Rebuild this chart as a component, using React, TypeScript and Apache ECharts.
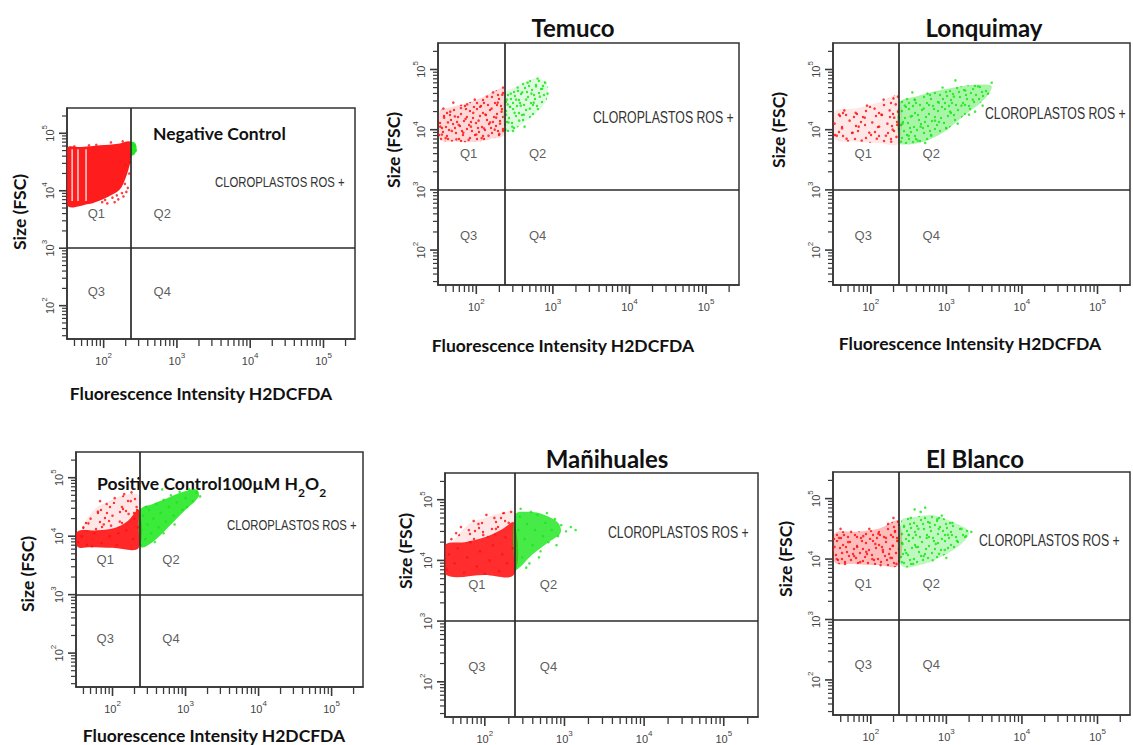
import React, { useEffect, useRef } from 'react';
import * as echarts from 'echarts';

type Pt = [number, number];

// Axes are in decades: x = log10(fluorescence H2DCFDA), y = log10(FSC size)
const X_MIN = 1.5;
const X_MAX = 5.43;
const Y_MIN = 1.42;
const Y_MAX = 5.44;
const X_GATE = 2.37;
const Y_GATE = 3;
const DECADE_STARTS = [1, 2, 3, 4, 5];
const MINOR_MULTIPLIERS = [2, 3, 4, 5, 6, 7, 8, 9];
const QUADRANT_LABELS = ['Q1', 'Q2', 'Q3', 'Q4'];
const QUADRANT_POS: Pt[] = [[1.9, 3.6], [2.8, 3.6], [1.9, 2.25], [2.8, 2.25]];
const ROS_LABEL = 'CLOROPLASTOS ROS +';

// ---------- Negative control ----------
const negRedCore: Pt[] = [[1.5, 3.75], [1.5, 4.74], [1.7, 4.76], [1.95, 4.79], [2.2, 4.82], [2.37, 4.85], [2.37, 4.55], [2.3, 4.22], [2.22, 4.02], [2.1, 3.92], [1.95, 3.83], [1.8, 3.77]];
const negRedPoints: Pt[] = [[2.2, 3.85], [2.27, 3.9], [2.15, 3.8], [2.33, 4.05], [2.05, 3.78], [2.25, 3.96], [1.9, 4.8], [2.1, 4.84], [1.6, 4.77], [2.3, 4.45], [2.18, 3.92], [2.35, 4.3], [2.29, 4.12], [2.12, 3.88], [1.98, 3.8], [2.36, 4.5], [2.26, 4.86], [1.8, 4.79], [2.31, 3.98], [2.02, 3.84]];
const negGreenCore: Pt[] = [[2.37, 4.62], [2.37, 4.85], [2.43, 4.83], [2.45, 4.72], [2.42, 4.63]];
const negGreenPoints: Pt[] = [[2.38, 4.72], [2.4, 4.66], [2.42, 4.78], [2.39, 4.8], [2.44, 4.7]];
const negEmptyBins = [1.57, 1.65, 1.76];

// ---------- Temuco ----------
const temRedCore: Pt[] = [[1.52, 3.85], [1.52, 4.3], [1.7, 4.38], [1.9, 4.45], [2.1, 4.55], [2.3, 4.68], [2.36, 4.7], [2.36, 3.92], [2.2, 3.85], [2.0, 3.8], [1.75, 3.8]];
const temRedPoints: Pt[] = [[1.53, 4.05], [1.55, 3.92], [1.58, 4.2], [1.6, 3.86], [1.63, 4.12], [1.66, 4.3], [1.68, 3.98], [1.72, 4.22], [1.74, 3.84], [1.77, 4.08], [1.8, 4.36], [1.83, 3.95], [1.86, 4.18], [1.88, 4.42], [1.9, 3.83], [1.93, 4.05], [1.96, 4.28], [1.98, 4.5], [2.0, 3.92], [2.03, 4.15], [2.05, 4.38], [2.07, 3.86], [2.1, 4.02], [2.12, 4.25], [2.14, 4.55], [2.16, 3.9], [2.18, 4.12], [2.2, 4.35], [2.22, 4.62], [2.24, 4.0], [2.26, 4.2], [2.28, 4.45], [2.3, 3.93], [2.31, 4.1], [2.33, 4.3], [2.34, 4.58], [2.35, 4.7], [2.35, 3.98], [1.57, 4.35], [1.7, 4.45]];
const temGreenCore: Pt[] = [[2.37, 3.98], [2.37, 4.6], [2.5, 4.7], [2.65, 4.8], [2.82, 4.85], [2.92, 4.75], [2.92, 4.5], [2.8, 4.3], [2.6, 4.1], [2.45, 3.97]];
const temGreenPoints: Pt[] = [[2.38, 4.0], [2.39, 4.25], [2.4, 4.5], [2.42, 4.12], [2.44, 4.38], [2.45, 4.6], [2.47, 4.05], [2.5, 4.28], [2.52, 4.5], [2.54, 4.7], [2.56, 4.15], [2.58, 4.4], [2.6, 4.62], [2.62, 4.25], [2.65, 4.5], [2.67, 4.78], [2.7, 4.35], [2.72, 4.6], [2.75, 4.45], [2.78, 4.72], [2.8, 4.85], [2.83, 4.55], [2.86, 4.68], [2.9, 4.78], [2.93, 4.6], [2.48, 3.98], [2.41, 4.42], [2.63, 4.05]];

// ---------- Lonquimay ----------
const lonRedCore: Pt[] = [[1.52, 3.85], [1.52, 4.3], [1.8, 4.35], [2.1, 4.45], [2.37, 4.55], [2.37, 3.78], [2.1, 3.78], [1.8, 3.8]];
const lonRedPoints: Pt[] = [[1.52, 4.1], [1.55, 3.9], [1.58, 4.25], [1.62, 4.02], [1.65, 4.32], [1.68, 3.85], [1.72, 4.15], [1.76, 3.95], [1.8, 4.28], [1.84, 4.05], [1.88, 3.82], [1.92, 4.2], [1.95, 4.4], [1.98, 3.95], [2.02, 4.12], [2.05, 4.35], [2.08, 3.85], [2.11, 4.05], [2.14, 4.25], [2.17, 4.5], [2.2, 3.9], [2.22, 4.1], [2.25, 4.32], [2.27, 3.8], [2.29, 4.0], [2.31, 4.2], [2.33, 4.42], [2.34, 3.88], [2.35, 4.08], [2.36, 4.3], [2.36, 4.55], [2.3, 4.52]];
const lonGreenCore: Pt[] = [[2.38, 3.78], [2.38, 4.45], [2.6, 4.55], [2.9, 4.65], [3.2, 4.72], [3.45, 4.75], [3.6, 4.72], [3.5, 4.5], [3.2, 4.2], [2.95, 3.95], [2.7, 3.8], [2.5, 3.76]];
const lonGreenPoints: Pt[] = [[2.4, 3.8], [2.42, 4.1], [2.45, 4.4], [2.5, 3.9], [2.53, 4.22], [2.58, 4.5], [2.62, 3.82], [2.66, 4.05], [2.7, 4.35], [2.75, 4.6], [2.8, 3.9], [2.85, 4.15], [2.9, 4.45], [2.95, 4.7], [3.0, 4.02], [3.05, 4.3], [3.1, 4.55], [3.15, 4.1], [3.2, 4.4], [3.25, 4.65], [3.3, 4.25], [3.35, 4.5], [3.42, 4.72], [3.48, 4.4], [3.55, 4.6], [3.6, 4.78], [3.12, 4.82], [2.55, 4.62], [2.72, 3.78], [3.38, 4.3]];

// ---------- Positive control 100 µM H2O2 ----------
const posRedCore: Pt[] = [[1.52, 3.82], [1.52, 4.08], [1.8, 4.1], [2.05, 4.15], [2.2, 4.25], [2.36, 4.45], [2.36, 3.8], [2.0, 3.8], [1.7, 3.81]];
const posRedHalo: Pt[] = [[1.6, 4.1], [1.75, 4.45], [1.95, 4.6], [2.15, 4.7], [2.36, 4.7], [2.36, 4.4], [2.1, 4.15]];
const posRedPoints: Pt[] = [[1.53, 3.9], [1.6, 4.15], [1.65, 3.85], [1.7, 4.3], [1.75, 4.05], [1.8, 4.42], [1.85, 3.88], [1.88, 4.2], [1.92, 4.55], [1.96, 4.0], [2.0, 4.35], [2.03, 4.65], [2.06, 3.85], [2.1, 4.25], [2.13, 4.5], [2.16, 4.72], [2.19, 4.1], [2.22, 4.38], [2.25, 4.6], [2.28, 3.95], [2.3, 4.3], [2.33, 4.5], [2.35, 4.15], [1.58, 4.0], [1.72, 3.83], [1.98, 4.18], [2.08, 4.05], [1.83, 4.6], [2.26, 4.75], [1.67, 4.22]];
const posGreenCore: Pt[] = [[2.38, 3.82], [2.38, 4.45], [2.55, 4.55], [2.75, 4.65], [2.95, 4.75], [3.15, 4.8], [3.18, 4.68], [3.0, 4.45], [2.8, 4.2], [2.6, 3.95], [2.45, 3.82]];
const posGreenPoints: Pt[] = [[2.39, 3.85], [2.4, 4.1], [2.42, 4.35], [2.45, 3.95], [2.48, 4.2], [2.5, 4.45], [2.53, 4.05], [2.56, 4.3], [2.6, 4.55], [2.63, 4.15], [2.66, 4.4], [2.7, 4.62], [2.73, 4.25], [2.77, 4.5], [2.8, 4.7], [2.84, 4.35], [2.88, 4.58], [2.92, 4.76], [2.96, 4.45], [3.0, 4.65], [3.05, 4.8], [3.1, 4.6], [3.15, 4.75], [3.2, 4.68], [2.58, 3.9], [2.7, 4.05], [2.85, 4.2], [2.46, 4.5], [3.02, 4.5], [2.68, 4.8]];

// ---------- Mañihuales ----------
const manRedCore: Pt[] = [[1.5, 3.77], [1.5, 4.25], [1.75, 4.3], [2.0, 4.38], [2.2, 4.5], [2.37, 4.62], [2.37, 3.77], [2.0, 3.76]];
const manRedHalo: Pt[] = [[1.6, 4.25], [1.8, 4.6], [2.0, 4.7], [2.2, 4.78], [2.37, 4.8], [2.37, 4.55], [2.1, 4.4]];
const manRedPoints: Pt[] = [[1.52, 3.85], [1.55, 4.1], [1.58, 4.35], [1.62, 3.95], [1.66, 4.2], [1.7, 4.55], [1.74, 3.8], [1.78, 4.05], [1.82, 4.3], [1.86, 4.65], [1.9, 3.9], [1.94, 4.15], [1.98, 4.42], [2.02, 4.75], [2.06, 4.0], [2.1, 4.25], [2.14, 4.52], [2.18, 3.82], [2.22, 4.1], [2.26, 4.38], [2.3, 4.62], [2.33, 4.8], [2.35, 4.2], [1.64, 4.45], [1.92, 4.6], [2.12, 4.7], [2.28, 3.95], [1.8, 4.5], [2.0, 3.78], [2.24, 4.78]];
const manGreenCore: Pt[] = [[2.38, 3.85], [2.38, 4.75], [2.55, 4.8], [2.75, 4.75], [2.92, 4.62], [2.95, 4.45], [2.8, 4.3], [2.6, 4.1], [2.45, 3.9]];
const manGreenPoints: Pt[] = [[2.39, 3.9], [2.4, 4.2], [2.42, 4.5], [2.44, 4.72], [2.47, 4.05], [2.5, 4.35], [2.53, 4.6], [2.56, 3.95], [2.6, 4.25], [2.63, 4.5], [2.66, 4.75], [2.7, 4.15], [2.73, 4.4], [2.76, 4.62], [2.8, 4.3], [2.84, 4.5], [2.88, 4.68], [2.92, 4.4], [2.96, 4.58], [3.02, 4.48], [3.08, 4.55], [3.14, 4.5], [2.45, 4.85], [2.58, 4.8], [2.52, 3.88], [2.68, 4.05], [2.9, 4.25], [2.78, 4.78]];

// ---------- El Blanco ----------
const blaRedCore: Pt[] = [[1.52, 3.95], [1.52, 4.42], [1.8, 4.45], [2.1, 4.5], [2.37, 4.62], [2.37, 3.9], [2.1, 3.9], [1.8, 3.92]];
const blaRedPoints: Pt[] = [[1.52, 4.2], [1.55, 4.0], [1.58, 4.35], [1.62, 4.1], [1.66, 3.92], [1.7, 4.28], [1.74, 4.45], [1.78, 4.05], [1.82, 4.2], [1.86, 3.95], [1.9, 4.38], [1.94, 4.12], [1.98, 4.5], [2.02, 4.0], [2.06, 4.25], [2.1, 4.42], [2.13, 3.9], [2.16, 4.15], [2.2, 4.35], [2.23, 4.58], [2.26, 4.02], [2.29, 4.22], [2.32, 4.45], [2.34, 3.92], [2.35, 4.3], [2.36, 4.62], [2.3, 4.68], [1.6, 4.5]];
const blaGreenCore: Pt[] = [[2.4, 3.9], [2.4, 4.62], [2.6, 4.7], [2.85, 4.72], [3.1, 4.6], [3.3, 4.45], [3.2, 4.25], [2.95, 4.05], [2.7, 3.92]];
const blaGreenPoints: Pt[] = [[2.41, 3.95], [2.42, 4.25], [2.44, 4.55], [2.47, 4.1], [2.5, 4.4], [2.53, 4.68], [2.56, 3.92], [2.6, 4.2], [2.63, 4.5], [2.66, 4.78], [2.7, 4.05], [2.74, 4.35], [2.78, 4.6], [2.82, 3.98], [2.86, 4.25], [2.9, 4.5], [2.94, 4.72], [2.98, 4.15], [3.02, 4.4], [3.08, 4.6], [3.14, 4.3], [3.2, 4.5], [3.26, 4.38], [3.33, 4.45], [2.72, 4.85], [2.58, 4.82], [3.0, 4.02], [2.88, 4.66]];

// speckle texture used to shade the inside of the event clouds (tile of 36 x 36 px)
const SPECKLE_DENSE: Pt[] = [[2, 3], [9, 1], [15, 5], [22, 2], [29, 6], [34, 1], [5, 10], [12, 8], [19, 12], [26, 9], [32, 13], [1, 17], [8, 15], [14, 19], [21, 16], [28, 18], [35, 21], [4, 23], [11, 24], [17, 22], [24, 25], [31, 27], [2, 30], [9, 31], [15, 28], [20, 33], [27, 31], [33, 34], [6, 35], [13, 34], [18, 7], [25, 14], [30, 23], [7, 27], [23, 20], [35, 9], [16, 31], [3, 14], [10, 20], [29, 33]];
const SPECKLE_SPARSE: Pt[] = [[2, 3], [15, 5], [29, 6], [12, 8], [26, 9], [1, 17], [14, 19], [28, 18], [11, 24], [24, 25], [2, 30], [15, 28], [27, 31], [6, 35], [18, 7], [30, 23], [7, 27], [35, 9], [20, 33], [33, 14]];

const RED = '#ff1010';
const GREEN = '#19e619';
const BOLD = "Lato, 'Open Sans', sans-serif";
const PLAIN = "'Liberation Sans', Arial, sans-serif";

type Shade = { poly: Pt[]; color: string; tint: number; speckle: 'dense' | 'sparse' | null };

const PANELS = [
  { grid: { left: 67, top: 108, width: 288, height: 231 }, shades: [
      { poly: negRedCore, color: RED, tint: 0.95, speckle: null },
      { poly: negGreenCore, color: GREEN, tint: 0.95, speckle: null }] as Shade[],
    red: negRedPoints, green: negGreenPoints, bins: negEmptyBins },
  { grid: { left: 438, top: 43, width: 301, height: 242 }, shades: [
      { poly: temRedCore, color: RED, tint: 0.16, speckle: 'dense' },
      { poly: temGreenCore, color: GREEN, tint: 0.14, speckle: 'dense' }] as Shade[],
    red: temRedPoints, green: temGreenPoints, bins: [] as number[] },
  { grid: { left: 833, top: 43, width: 302, height: 242 }, shades: [
      { poly: lonRedCore, color: RED, tint: 0.1, speckle: 'sparse' },
      { poly: lonGreenCore, color: GREEN, tint: 0.38, speckle: 'dense' }] as Shade[],
    red: lonRedPoints, green: lonGreenPoints, bins: [] as number[] },
  { grid: { left: 76, top: 452, width: 287, height: 235 }, shades: [
      { poly: posRedHalo, color: RED, tint: 0.1, speckle: 'sparse' },
      { poly: posRedCore, color: RED, tint: 0.9, speckle: null },
      { poly: posGreenCore, color: GREEN, tint: 0.85, speckle: null }] as Shade[],
    red: posRedPoints, green: posGreenPoints, bins: [] as number[] },
  { grid: { left: 445, top: 473, width: 313, height: 244 }, shades: [
      { poly: manRedHalo, color: RED, tint: 0.1, speckle: 'sparse' },
      { poly: manRedCore, color: RED, tint: 0.88, speckle: null },
      { poly: manGreenCore, color: GREEN, tint: 0.8, speckle: null }] as Shade[],
    red: manRedPoints, green: manGreenPoints, bins: [] as number[] },
  { grid: { left: 833, top: 472, width: 302, height: 243 }, shades: [
      { poly: blaRedCore, color: RED, tint: 0.28, speckle: 'dense' },
      { poly: blaGreenCore, color: GREEN, tint: 0.28, speckle: 'dense' }] as Shade[],
    red: blaRedPoints, green: blaGreenPoints, bins: [] as number[] },
];

// texts placed on the page
const ROS_TEXTS = [
  { x: 215, y: 182, size: 15.2 },
  { x: 593, y: 117, size: 16.5 },
  { x: 985, y: 113, size: 16.5 },
  { x: 227, y: 525, size: 15.2 },
  { x: 608, y: 532, size: 16.5 },
  { x: 979, y: 540, size: 16.5 },
];
const PANEL_TITLES = [
  { text: 'Temuco', x: 573, y: 27 },
  { text: 'Lonquimay', x: 984, y: 27 },
  { text: 'Mañihuales', x: 607, y: 458 },
  { text: 'El Blanco', x: 975, y: 458 },
];
const X_TITLES = [
  { x: 201, y: 393 },
  { x: 563, y: 345 },
  { x: 970, y: 343 },
  { x: 214, y: 735 },
];
const Y_TITLES = [
  { x: 19, y: 212 },
  { x: 393, y: 150 },
  { x: 778, y: 130 },
  { x: 27, y: 574 },
  { x: 405, y: 551 },
  { x: 785, y: 559 },
];

const RICH = {
  b: { fontSize: 11, color: '#444', fontFamily: PLAIN, verticalAlign: 'bottom', lineHeight: 15 },
  s: { fontSize: 8, color: '#444', fontFamily: PLAIN, verticalAlign: 'top', lineHeight: 15 },
};
const powerLabel = (v: number) => (Number.isInteger(v) && v >= 2 ? `{b|10}{s|${v}}` : '');

const textureCache: Record<string, HTMLCanvasElement> = {};
function speckleTexture(color: string, kind: 'dense' | 'sparse') {
  const key = color + kind;
  if (textureCache[key]) return textureCache[key];
  const c = document.createElement('canvas');
  c.width = 36;
  c.height = 36;
  const ctx = c.getContext('2d')!;
  ctx.fillStyle = color;
  ctx.globalAlpha = 0.85;
  for (const [x, y] of kind === 'dense' ? SPECKLE_DENSE : SPECKLE_SPARSE) {
    ctx.beginPath();
    ctx.arc(x, y, 1.2, 0, Math.PI * 2);
    ctx.fill();
  }
  textureCache[key] = c;
  return c;
}

function shadeSeries(i: number, s: Shade) {
  return {
    type: 'custom', xAxisIndex: i, yAxisIndex: i, silent: true, clip: true, z: 2,
    data: [s.poly[0]],
    renderItem: (_p: any, api: any) => {
      const points = s.poly.map((pt) => api.coord(pt));
      const children: any[] = [
        { type: 'polygon', shape: { points, smooth: 0.35 }, style: { fill: s.color, opacity: s.tint } },
      ];
      if (s.speckle) {
        children.push({ type: 'polygon', shape: { points, smooth: 0.35 }, style: { fill: { image: speckleTexture(s.color, s.speckle), repeat: 'repeat' } } });
      }
      return { type: 'group', children };
    },
  };
}

function ticksSeries(i: number) {
  return {
    type: 'custom', xAxisIndex: i, yAxisIndex: i, silent: true, clip: false, z: 4,
    data: [[X_MIN, Y_MIN]],
    renderItem: (_p: any, api: any) => {
      const children: any[] = [];
      for (const d of DECADE_STARTS) {
        for (const m of [1, ...MINOR_MULTIPLIERS]) {
          const v = d + Math.log10(m);
          const major = m === 1;
          if (v >= X_MIN && v <= X_MAX) {
            const p = api.coord([v, Y_MIN]);
            children.push({ type: 'line', shape: { x1: p[0], y1: p[1], x2: p[0], y2: p[1] + (major ? 9 : 7) }, style: { stroke: '#3a3a3a', lineWidth: major ? 1.6 : 1.3 } });
          }
          if (v >= Y_MIN && v <= Y_MAX) {
            const p = api.coord([X_MIN, v]);
            children.push({ type: 'line', shape: { x1: p[0] - (major ? 8 : 5), y1: p[1], x2: p[0], y2: p[1] }, style: { stroke: '#3a3a3a', lineWidth: major ? 1.6 : 1.2 } });
          }
        }
      }
      return { type: 'group', children };
    },
  };
}

function binsSeries(i: number, bins: number[]) {
  return {
    type: 'custom', xAxisIndex: i, yAxisIndex: i, silent: true, clip: true, z: 3,
    data: [[X_MIN, Y_MIN]],
    renderItem: (_p: any, api: any) => ({
      type: 'group',
      children: bins.map((b) => {
        const a = api.coord([b, 3.82]);
        const c = api.coord([b, 4.72]);
        return { type: 'line', shape: { x1: a[0], y1: a[1], x2: c[0], y2: c[1] }, style: { stroke: '#ffffff', lineWidth: 1.4, opacity: 0.85 } };
      }),
    }),
  };
}

const centered = { align: 'center', verticalAlign: 'middle', textAlign: 'center', textVerticalAlign: 'middle' };

function buildOption() {
  const series: any[] = [];
  PANELS.forEach((p, i) => {
    p.shades.forEach((s) => series.push(shadeSeries(i, s)));
    if (p.bins.length) series.push(binsSeries(i, p.bins));
    series.push({ type: 'scatter', xAxisIndex: i, yAxisIndex: i, silent: true, z: 3, symbolSize: 2.6, itemStyle: { color: RED, opacity: 0.8 }, data: p.red });
    series.push({ type: 'scatter', xAxisIndex: i, yAxisIndex: i, silent: true, z: 3, symbolSize: 2.6, itemStyle: { color: GREEN, opacity: 0.8 }, data: p.green });
    series.push(ticksSeries(i));
    series.push({
      type: 'scatter', xAxisIndex: i, yAxisIndex: i, silent: true, z: 6, symbolSize: 0,
      label: { show: true, formatter: '{b}', position: 'inside', color: '#333', fontFamily: PLAIN, fontSize: 13 },
      data: QUADRANT_POS.map((q, k) => ({ value: q, name: QUADRANT_LABELS[k] })),
      markLine: {
        silent: true, symbol: ['none', 'none'], label: { show: false },
        lineStyle: { color: '#2a2a2a', width: 1.7, type: 'solid' },
        emphasis: { disabled: true },
        data: [{ xAxis: X_GATE }, { yAxis: Y_GATE }],
      },
    });
  });

  const graphic: any[] = [];
  ROS_TEXTS.forEach((t) => {
    graphic.push({ type: 'text', x: t.x, y: t.y, scaleX: 0.745, style: { text: ROS_LABEL, fontSize: t.size, fontFamily: PLAIN, fill: '#333', align: 'left', verticalAlign: 'middle', textAlign: 'left', textVerticalAlign: 'middle' } });
  });
  PANEL_TITLES.forEach((t) => {
    graphic.push({ type: 'text', x: t.x, y: t.y, style: { text: t.text, fontSize: 24, fontWeight: 'bold', fontFamily: BOLD, fill: '#111', ...centered } });
  });
  X_TITLES.forEach((t) => {
    graphic.push({ type: 'text', x: t.x, y: t.y, style: { text: 'Fluorescence Intensity H2DCFDA', fontSize: 17.5, fontWeight: 'bold', fontFamily: BOLD, fill: '#111', ...centered } });
  });
  Y_TITLES.forEach((t) => {
    graphic.push({ type: 'text', x: t.x, y: t.y, rotation: Math.PI / 2, style: { text: 'Size (FSC)', fontSize: 17.5, fontWeight: 'bold', fontFamily: BOLD, fill: '#111', ...centered } });
  });
  graphic.push({ type: 'text', x: 153, y: 133, style: { text: 'Negative Control', fontSize: 17.5, fontWeight: 'bold', fontFamily: BOLD, fill: '#111', align: 'left', verticalAlign: 'middle', textAlign: 'left', textVerticalAlign: 'middle' } });
  graphic.push({
    type: 'text', x: 97, y: 486,
    style: {
      text: '{m|Positive Control100µM H}{sub|2}{m|O}{sub|2}', align: 'left', verticalAlign: 'middle', textAlign: 'left', textVerticalAlign: 'middle',
      rich: {
        m: { fontSize: 17.5, fontWeight: 'bold', fontFamily: BOLD, fill: '#111', color: '#111', verticalAlign: 'top', lineHeight: 24 },
        sub: { fontSize: 12, fontWeight: 'bold', fontFamily: BOLD, fill: '#111', color: '#111', verticalAlign: 'bottom', lineHeight: 24 },
      },
    },
  });

  return {
    animation: false,
    backgroundColor: '#ffffff',
    grid: PANELS.map((p) => ({ ...p.grid, show: true, borderColor: '#333', borderWidth: 1.5, backgroundColor: 'transparent', containLabel: false })),
    xAxis: PANELS.map((_p, i) => ({
      gridIndex: i, type: 'value', min: X_MIN, max: X_MAX, interval: 0.5,
      axisLine: { show: true, onZero: false, lineStyle: { color: '#333', width: 1.5 } },
      axisTick: { show: false }, splitLine: { show: false },
      axisLabel: { margin: 12, formatter: powerLabel, rich: RICH },
    })),
    yAxis: PANELS.map((_p, i) => ({
      gridIndex: i, type: 'value', min: Y_MIN, max: Y_MAX,
      axisLine: { show: true, onZero: false, lineStyle: { color: '#333', width: 1.5 } },
      axisTick: { show: false }, splitLine: { show: false },
      axisLabel: { margin: 12, rotate: 90, formatter: powerLabel, rich: RICH },
    })),
    series,
    graphic,
  };
}

export default function App() {
  const ref = useRef<HTMLDivElement>(null);
  useEffect(() => {
    document.body.style.margin = '0';
    if (!ref.current) return;
    const chart = echarts.init(ref.current, undefined, { renderer: 'svg' });
    chart.setOption(buildOption() as any);
    return () => chart.dispose();
  }, []);
  return <div ref={ref} style={{ position: 'fixed', left: 0, top: 0, width: 1133, height: 745, background: '#fff' }} />;
}
